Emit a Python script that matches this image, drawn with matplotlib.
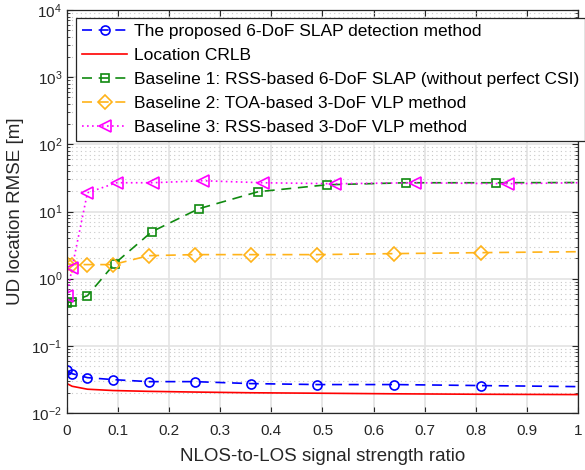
import numpy as np
import matplotlib
matplotlib.use('Agg')
import matplotlib.pyplot as plt
from matplotlib.ticker import LogLocator, FixedLocator

plt.rcParams['font.family'] = ['Liberation Sans', 'DejaVu Sans']
plt.rcParams['mathtext.fontset'] = 'custom'
plt.rcParams['mathtext.rm'] = 'Liberation Sans'

# data
x_sq = [0, 0.01, 0.04, 0.09, 0.16, 0.25, 0.36, 0.49, 0.64, 0.81, 1.0]

proposed = [0.043, 0.0385, 0.0336, 0.0314, 0.0293, 0.0293, 0.0274, 0.0265, 0.0265, 0.0256, 0.0247]
crlb = [0.0274, 0.0250, 0.0226, 0.0216, 0.0210, 0.0205, 0.0200, 0.0197, 0.0193, 0.0190, 0.0188]

x_b1 = [0, 0.01, 0.04, 0.093, 0.166, 0.258, 0.374, 0.509, 0.664, 0.84, 1.0]
base1 = [0.44, 0.455, 0.558, 1.67, 5.0, 11.0, 19.7, 25.0, 26.8, 26.8, 27.0]

base2 = [1.67, 1.62, 1.62, 1.62, 2.2, 2.28, 2.28, 2.28, 2.36, 2.44, 2.52]

x_b3 = [0, 0.01, 0.04, 0.097, 0.168, 0.266, 0.383, 0.525, 0.681, 0.864, 1.0]
base3 = [0.558, 1.46, 19.0, 26.8, 26.8, 28.7, 26.8, 25.9, 26.8, 25.9, 26.8]

labels = ['The proposed 6-DoF SLAP detection method',
          'Location CRLB',
          'Baseline 1: RSS-based 6-DoF SLAP (without perfect CSI)',
          'Baseline 2: TOA-based 3-DoF VLP method',
          'Baseline 3: RSS-based 3-DoF VLP method']

fig = plt.figure(figsize=(5.85, 4.70), dpi=100)
ax = fig.add_axes([0.1145, 0.1213, 0.8735, 0.8574])

mk = list(range(10))
ax.plot(x_sq, proposed, color='#0000ff', ls=(0, (6, 4)), lw=1.2, marker='o',
        ms=6.5, mfc='none', mew=1.2, markevery=mk, label=labels[0])
ax.plot(x_sq, crlb, color='#ff0000', ls='-', lw=1.2, label=labels[1])
ax.plot(x_b1, base1, color='#108a10', ls=(0, (6, 4)), lw=1.2, marker='s',
        ms=5.5, mfc='none', mew=1.2, markevery=mk, label=labels[2])
ax.plot(x_sq, base2, color='#ffb319', ls=(0, (6, 4)), lw=1.2, marker='D',
        ms=7, mfc='none', mew=1.2, markevery=mk, label=labels[3])
ax.plot(x_b3, base3, color='#ff00ff', ls=(0, (1, 2)), lw=1.2, marker='<',
        ms=8, mfc='none', mew=1.2, markevery=mk, label=labels[4])

ax.set_yscale('log')
ax.set_xlim(0, 1)
ax.set_ylim(1e-2, 1e4)
ax.xaxis.set_major_locator(FixedLocator(np.arange(0, 1.01, 0.1)))
ax.set_xticklabels(['0', '0.1', '0.2', '0.3', '0.4', '0.5', '0.6', '0.7', '0.8', '0.9', '1'])
ax.yaxis.set_major_locator(LogLocator(base=10, numticks=10))
ax.yaxis.set_minor_locator(LogLocator(base=10, subs=np.arange(2, 10), numticks=10))

ax.grid(True, which='major', color='#e3e3e3', lw=1.2, ls='-')
ax.grid(True, which='minor', axis='y', color='#c8c8c8', lw=0.8, ls=(0, (1, 3)))
ax.set_axisbelow(True)

ax.tick_params(which='both', direction='in', top=True, right=True, colors='#262626',
               labelcolor='#262626', labelsize=11)
ax.tick_params(which='major', length=4.5, width=0.8)
ax.tick_params(axis='x', which='major', pad=8)
ax.tick_params(which='minor', length=2.5, width=0.6)
for s in ax.spines.values():
    s.set_color('#262626')
    s.set_linewidth(0.9)

ax.set_xlabel('NLOS-to-LOS signal strength ratio', fontsize=13.5, color='#262626', labelpad=7)
ax.set_ylabel('UD location RMSE [m]', fontsize=13.5, color='#262626', labelpad=5)

leg = ax.legend(loc='upper left', bbox_to_anchor=(0.0176, 0.98), borderaxespad=0,
                fontsize=12.5, handlelength=2.6, handletextpad=0.4, labelspacing=0.5,
                borderpad=0.35, fancybox=False, framealpha=1, edgecolor='#262626')
leg.get_frame().set_linewidth(0.9)
leg.set_zorder(5)

fig.savefig('out.png', dpi=100)
